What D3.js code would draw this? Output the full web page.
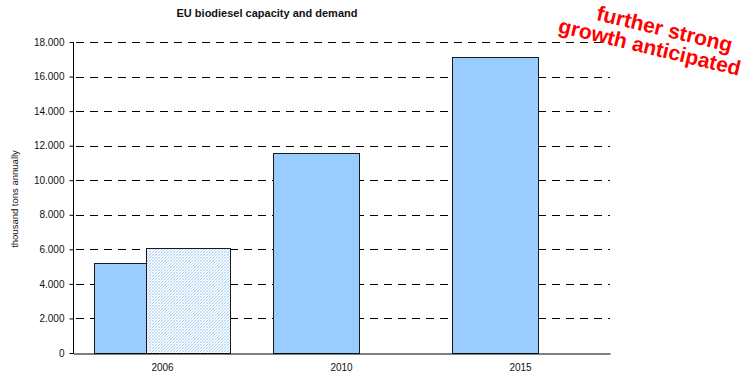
<!DOCTYPE html>
<html>
<head>
<meta charset="utf-8">
<script src="https://cdn.jsdelivr.net/npm/d3@7"></script>
<style>
  html, body { margin: 0; padding: 0; background: #fff; }
  svg { display: block; font-family: "Liberation Sans", Arial, sans-serif; }
</style>
</head>
<body>
<svg id="chart" width="747" height="380"></svg>
<script>
// EU biodiesel capacity vs. demand, thousand tons per year
const categories = ["2006", "2010", "2015"];
const capacity = [5200, 11550, 17150];
const demand = [6050, null, null];
const yTicks = [0, 2000, 4000, 6000, 8000, 10000, 12000, 14000, 16000, 18000];
const titleText = "EU biodiesel capacity and demand";
const yAxisTitle = "thousand tons annually";
const noteLines = ["further strong", "growth anticipated"];

const svg = d3.select("#chart");
const plot = { left: 73, right: 610, top: 42, bottom: 353 };

const fmt = d3.formatLocale({ decimal: ",", thousands: ".", grouping: [3], currency: ["", ""] }).format(",d");

const x = d3.scaleBand().domain(categories).range([plot.left, plot.right]);
const y = d3.scaleLinear().domain([0, 18000]).range([plot.bottom, plot.top]);

// hatch pattern for the demand series
const defs = svg.append("defs");
const pat = defs.append("pattern")
  .attr("id", "hatch").attr("patternUnits", "userSpaceOnUse")
  .attr("width", 3).attr("height", 3);
pat.append("rect").attr("width", 3).attr("height", 3).attr("fill", "#ffffff");
pat.append("path").attr("d", "M0,3 L3,0 M-1,1 L1,-1 M2,4 L4,2")
  .attr("stroke", "#a8cff5").attr("stroke-width", 0.9);
pat.append("path").attr("d", "M0,0 L3,3")
  .attr("stroke", "#cfe3f8").attr("stroke-width", 0.6);

// dashed gridlines
svg.append("g").selectAll("line")
  .data(yTicks.filter(d => d > 0))
  .join("line")
  .attr("x1", plot.left + 3).attr("x2", plot.right)
  .attr("y1", d => Math.round(y(d)) + 0.5).attr("y2", d => Math.round(y(d)) + 0.5)
  .attr("stroke", "#000").attr("stroke-width", 1)
  .attr("stroke-dasharray", "8,6");

// bars
const bw = x.bandwidth() * 0.48;
const off = x.bandwidth() * 0.12;
const step = bw * 0.6;

const capData = categories.map((c, i) => ({ c, v: capacity[i] }));
const demData = categories.map((c, i) => ({ c, v: demand[i] })).filter(d => d.v != null);

svg.append("g").selectAll("rect")
  .data(capData)
  .join("rect")
  .attr("x", d => Math.round(x(d.c) + off) + 0.5)
  .attr("y", d => Math.round(y(d.v)) + 0.5)
  .attr("width", Math.round(bw))
  .attr("height", d => Math.round(y(0)) - Math.round(y(d.v)))
  .attr("fill", "#99ccff")
  .attr("stroke", "#1a1a1a").attr("stroke-width", 1);

svg.append("g").selectAll("rect")
  .data(demData)
  .join("rect")
  .attr("x", d => Math.round(x(d.c) + off + step) + 0.5)
  .attr("y", d => Math.round(y(d.v)) + 0.5)
  .attr("width", Math.round(bw) - 2)
  .attr("height", d => Math.round(y(0)) - Math.round(y(d.v)))
  .attr("fill", "url(#hatch)")
  .attr("stroke", "#1a1a1a").attr("stroke-width", 1);

// y axis
const yAxis = svg.append("g")
  .attr("transform", `translate(${plot.left + 0.5},0)`)
  .call(d3.axisLeft(y).tickValues(yTicks).tickFormat(fmt).tickSize(4).tickPadding(5));
yAxis.select(".domain").attr("stroke", "#000").attr("d", `M0,${plot.top}V${plot.bottom + 0.5}`);
yAxis.selectAll(".tick line").attr("stroke", "#000");
yAxis.selectAll(".tick text").attr("font-size", 10).attr("fill", "#111")
  .attr("font-family", "'Liberation Sans', Arial, sans-serif");

// x axis
const xAxis = svg.append("g")
  .attr("transform", `translate(0,${Math.round(y(0)) + 0.5})`)
  .call(d3.axisBottom(x).tickSize(0).tickPadding(10));
xAxis.select(".domain").attr("stroke", "#000").attr("stroke-width", 1.2);
xAxis.selectAll(".tick text").attr("font-size", 10).attr("fill", "#111")
  .attr("font-family", "'Liberation Sans', Arial, sans-serif");

// titles
svg.append("text")
  .attr("x", 267).attr("y", 17)
  .attr("text-anchor", "middle")
  .attr("font-size", 11).attr("font-weight", "bold").attr("fill", "#111")
  .text(titleText);

svg.append("text")
  .attr("transform", "translate(18,199) rotate(-90)")
  .attr("text-anchor", "middle")
  .attr("font-size", 9.5).attr("fill", "#111")
  .text(yAxisTitle);

// annotation, two tilted lines
const notePos = [[663, 36], [648, 54]];
svg.append("g").selectAll("text")
  .data(noteLines)
  .join("text")
  .attr("transform", (d, i) => `translate(${notePos[i][0]},${notePos[i][1]}) rotate(13.5)`)
  .attr("text-anchor", "middle")
  .attr("font-size", 21).attr("font-weight", "bold")
  .attr("fill", "#ff0000")
  .text(d => d);
</script>
</body>
</html>
